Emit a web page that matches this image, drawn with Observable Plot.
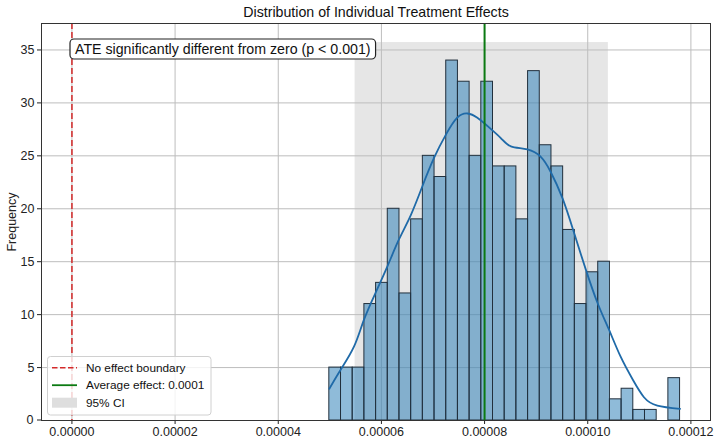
<!DOCTYPE html>
<html><head><meta charset="utf-8">
<script src="https://cdn.jsdelivr.net/npm/d3@7"></script>
<script src="https://cdn.jsdelivr.net/npm/@observablehq/plot@0.6"></script>
<style>
body{margin:0;background:#fff;}
#chart{position:relative;width:715px;height:443px;}
</style></head><body><div id="chart"></div>
<script>
// ---- data ----
const binCounts = [5,5,5,11,13,20,12,19,25,23,34,32,25,32,24,24,19,33,26,24,18,11,14,15,2,3,1,1,0,4];
const binLow = 49.9e-6;
const binHigh = 117.9e-6;
const kdeX = [49.9,52.1,54.7,56.6,58.9,61.2,63.4,65.7,68.0,70.2,72.5,74.7,76.7,78.6,80.6,83.1,85.1,88.3,90.9,92.8,95.1,97.3,99.6,101.9,104.1,106.4,108.8,110.9,113.5,117.9].map(v => v * 1e-6);
const kdeY = [3.0,4.8,7.0,9.5,12.1,14.6,17.1,19.4,22.2,24.8,27.0,28.6,29.0,28.6,27.8,26.7,25.9,25.6,24.9,23.5,21.0,17.8,14.3,11.1,8.6,6.0,3.8,2.2,1.4,1.1];
const ciLow = 54.9e-6, ciHigh = 104.0e-6, ciTop = 35.7;
const ateValue = 80.0e-6;
const zeroValue = 0;
const xTicks = [0, 0.00002, 0.00004, 0.00006, 0.00008, 0.00010, 0.00012];
const yTicks = [0, 5, 10, 15, 20, 25, 30, 35];
const titleText = "Distribution of Individual Treatment Effects";
const yLabel = "Frequency";
const annotationText = "ATE significantly different from zero (p < 0.001)";
const legendLabels = ["No effect boundary", "Average effect: 0.0001", "95% CI"];

// ---- derived tables ----
const binW = (binHigh - binLow) / binCounts.length;
const bins = binCounts.map((c, i) => ({x1: binLow + i * binW, x2: binLow + (i + 1) * binW, count: c}));
const kde = kdeX.map((x, i) => ({x, y: kdeY[i]}));
const ci = [{lo: ciLow, hi: ciHigh, b: 0, t: ciTop}];

const font = "'Liberation Sans', Arial, Helvetica, sans-serif";
const C_RED = "#d42a2a", C_GREEN = "#0b7a12", C_CI = "#e6e6e6";

const plot = Plot.plot({
  width: 715, height: 443,
  marginLeft: 41, marginRight: 5, marginTop: 23, marginBottom: 23,
  style: {fontFamily: font, fontSize: "12.5px", color: "#222", background: "#fff"},
  x: {domain: [-5.9e-6, 123.8e-6]},
  y: {domain: [0, 37.5]},
  marks: [
    Plot.rect(ci, {x1: "lo", x2: "hi", y1: "b", y2: "t", fill: C_CI}),
    Plot.gridX(xTicks, {stroke: "#bdbdbd", strokeOpacity: 1, strokeWidth: 1}),
    Plot.gridY(yTicks, {stroke: "#bdbdbd", strokeOpacity: 1, strokeWidth: 1}),
    Plot.rectY(bins, {x1: "x1", x2: "x2", y: "count", fill: "#1f77b4", fillOpacity: 0.5, stroke: "#22303d", strokeWidth: 1}),
    Plot.line(kde, {x: "x", y: "y", stroke: "#1f6aa8", strokeWidth: 1.8, curve: "natural"}),
    Plot.ruleX([zeroValue], {stroke: C_RED, strokeWidth: 1.5, strokeDasharray: "6,3"}),
    Plot.ruleX([ateValue], {stroke: C_GREEN, strokeWidth: 2}),
    Plot.axisX({ticks: xTicks, tickSize: 4, tickPadding: 3, tickFormat: d3.format(".5f"), label: null, fontSize: 12.5}),
    Plot.axisY({ticks: yTicks.slice(1), tickSize: 4, tickPadding: 3, tickFormat: d => String(d), label: yLabel, labelAnchor: "center", labelArrow: "none", labelOffset: 34, fontSize: 12.5}),
    Plot.frame({stroke: "#333", strokeWidth: 1}),
    Plot.text([titleText], {frameAnchor: "top", lineAnchor: "bottom", dy: -7, fontSize: 14.2, fill: "#111"})
  ]
});
document.getElementById("chart").appendChild(plot);

// ---- overlays drawn in the svg: bottom y tick, annotation box, legend ----
const svg = d3.select(plot);
const ys = plot.scale("y");
const y0 = ys.apply(yTicks[0]);
const zg = svg.append("g");
zg.append("line").attr("x1", 37).attr("x2", 41).attr("y1", y0).attr("y2", y0).attr("stroke", "#222");
zg.append("text").attr("x", 33.5).attr("y", y0 - 0.5).attr("dy", "0.34em").attr("text-anchor", "end")
  .attr("font-family", font).attr("font-size", 12.5).attr("fill", "#222").text(String(yTicks[0]));

const ann = svg.append("g").attr("font-family", font).attr("text-anchor", "start");
const annText = ann.append("text").attr("x", 75).attr("y", 54).attr("font-size", 14.2).attr("fill", "#111").text(annotationText);
const bb = annText.node().getBBox();
ann.insert("rect", "text").attr("x", bb.x - 5).attr("y", bb.y - 2).attr("width", bb.width + 10).attr("height", bb.height + 4)
  .attr("rx", 4).attr("fill", "#fff").attr("stroke", "#222").attr("stroke-width", 1.2);

const lg = svg.append("g").attr("font-family", font).attr("font-size", 11.8).attr("fill", "#111").attr("text-anchor", "start");
lg.append("rect").attr("x", 47.5).attr("y", 356.5).attr("width", 163.5).attr("height", 58.5).attr("rx", 3)
  .attr("fill", "#fff").attr("fill-opacity", 0.8).attr("stroke", "#d0d0d0");
const rowsY = [367.7, 385.2, 402.7];
lg.append("line").attr("x1", 52).attr("x2", 77).attr("y1", rowsY[0]).attr("y2", rowsY[0]).attr("stroke", C_RED).attr("stroke-width", 1.6).attr("stroke-dasharray", "5.5,2.5");
lg.append("line").attr("x1", 52).attr("x2", 77).attr("y1", rowsY[1]).attr("y2", rowsY[1]).attr("stroke", C_GREEN).attr("stroke-width", 1.8);
lg.append("rect").attr("x", 52).attr("y", rowsY[2] - 5).attr("width", 25).attr("height", 10).attr("fill", "#dedede");
legendLabels.forEach((t, i) => lg.append("text").attr("x", 86).attr("y", rowsY[i]).attr("dy", "0.36em").text(t));
</script></body></html>
